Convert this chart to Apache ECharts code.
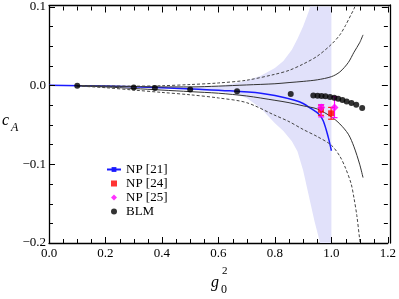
<!DOCTYPE html>
<html><head><meta charset="utf-8">
<script src="https://cdn.jsdelivr.net/npm/echarts@6/dist/echarts.min.js"></script>
<style>html,body{margin:0;padding:0;background:#fff}#c{width:399px;height:299px}</style>
</head><body><div id="c"></div>
<script>
// ---- data ----
const bandX     = [0, 0.2, 0.4, 0.5, 0.6, 0.65, 0.7, 0.75, 0.8, 0.83, 0.86, 0.88, 0.9, 0.92, 0.94, 0.96, 0.98, 1.0];
const bandUpper = [0, -0.0008, -0.002, -0.0025, -0.001, 0.002, 0.006, 0.012, 0.022, 0.031, 0.045, 0.059, 0.075, 0.094, 0.120, 0.160, 0.250, 0.350];
const bandLower = [0, -0.0015, -0.004, -0.006, -0.008, -0.010, -0.016, -0.029, -0.048, -0.058, -0.071, -0.084, -0.108, -0.140, -0.172, -0.200, -0.300, -0.400];

const curveX     = [0.1, 0.2, 0.3, 0.4, 0.5, 0.6, 0.7, 0.8, 0.85, 0.9, 0.95, 1.0, 1.03, 1.06, 1.08, 1.1, 1.112];
const solidUpper = [-0.0005, -0.001, -0.0015, -0.002, -0.002, -0.001, 0.0005, 0.002, 0.0035, 0.005, 0.007, 0.011, 0.017, 0.029, 0.042, 0.054, 0.064];
const solidLower = [-0.0006, -0.002, -0.004, -0.006, -0.008, -0.010, -0.0135, -0.019, -0.022, -0.026, -0.030, -0.040, -0.049, -0.062, -0.078, -0.100, -0.117];

const dashX      = [0.1, 0.2, 0.3, 0.4, 0.5, 0.6, 0.7, 0.8, 0.85, 0.9, 0.95, 1.0, 1.03, 1.05, 1.07, 1.08, 1.09, 1.1, 1.105];
const dashUpper  = [-0.0003, -0.0008, -0.001, -0.0005, 0.001, 0.003, 0.0065, 0.014, 0.019, 0.027, 0.037, 0.052, 0.064, 0.076, 0.090, 0.097, 0.107, 0.118, 0.125];
const dashLower  = [-0.0008, -0.003, -0.006, -0.009, -0.012, -0.016, -0.022, -0.038, -0.046, -0.056, -0.065, -0.076, -0.090, -0.105, -0.125, -0.143, -0.165, -0.195, -0.21];

const np21X = [0, 0.2, 0.4, 0.53, 0.64, 0.75, 0.8, 0.87, 0.9, 0.93, 0.954, 0.971, 0.989, 1.0];
const np21Y = [0, -0.001, -0.003, -0.005, -0.007, -0.010, -0.013, -0.019, -0.023, -0.030, -0.036, -0.045, -0.066, -0.083];

const np24X  = [0.963, 0.999];
const np24Y  = [-0.031, -0.0355];
const np24Lo = [-0.038, -0.043];
const np24Hi = [-0.025, -0.028];

const np25X  = [0.964, 1.011];
const np25Y  = [-0.028, -0.028];
const np25Lo = [-0.040, -0.041];
const np25Hi = [-0.0245, -0.0144];

const blmX = [0.1, 0.3, 0.375, 0.5, 0.666, 0.856, 0.936, 0.951, 0.965, 0.979, 0.995, 1.010, 1.024, 1.039, 1.054, 1.071, 1.088, 1.109];
const blmY = [-0.0005, -0.0026, -0.0034, -0.0052, -0.0075, -0.011, -0.0128, -0.0131, -0.0135, -0.014, -0.0148, -0.0157, -0.0169, -0.0186, -0.0204, -0.0224, -0.0245, -0.0287];

const xTicks = ['0.0', '0.2', '0.4', '0.6', '0.8', '1.0', '1.2'];
const yTicks = ['\u22120.2', '\u22120.1', '0.0', '0.1'];

// tick positions (axis decoration): majors every 0.2 / 0.1, minors every 0.05 / 0.025
const xMajorTicks = [0, 0.2, 0.4, 0.6, 0.8, 1.0, 1.2];
const yMajorTicks = [-0.2, -0.1, 0, 0.1];
const xMinorTicks = [];
for (let k = 0; k <= 24; k++) if (k % 4) xMinorTicks.push(k * 0.05);
const yMinorTicks = [];
for (let k = 0; k <= 12; k++) if (k % 4) yMinorTicks.push(-0.2 + k * 0.025);

// ---- build ----
const zip = (xs, ys) => xs.map((x, i) => [x, ys[i]]);
const FONT = 'Liberation Serif';
const chart = echarts.init(document.getElementById('c'), null, {renderer: 'canvas'});

function errRender(color) {
  return function (params, api) {
    const x = api.value(0), lo = api.value(1), hi = api.value(2);
    const p1 = api.coord([x, lo]), p2 = api.coord([x, hi]);
    const s = {stroke: color, lineWidth: 1.2};
    return {type: 'group', children: [
      {type: 'line', shape: {x1: p1[0], y1: p1[1], x2: p2[0], y2: p2[1]}, style: s},
      {type: 'line', shape: {x1: p1[0] - 3, y1: p1[1], x2: p1[0] + 3, y2: p1[1]}, style: s},
      {type: 'line', shape: {x1: p2[0] - 3, y1: p2[1], x2: p2[0] + 3, y2: p2[1]}, style: s}
    ]};
  };
}

function bandRender(params, api) {
  const pts = [];
  for (let i = 0; i < bandX.length; i++) pts.push(api.coord([bandX[i], bandUpper[i]]));
  for (let i = bandX.length - 1; i >= 0; i--) pts.push(api.coord([bandX[i], bandLower[i]]));
  const cs = params.coordSys;
  return {
    type: 'group',
    clipPath: {type: 'rect', shape: {x: cs.x, y: cs.y, width: cs.width, height: cs.height}},
    children: [{type: 'polygon', shape: {points: pts}, style: {fill: '#e1e1fa'}}]
  };
}

function tickRender(params, api) {
  const cs = params.coordSys;
  const top = cs.y, bottom = cs.y + cs.height, left = cs.x, right = cs.x + cs.width;
  const s = {stroke: '#000', lineWidth: 1};
  const ch = [];
  const addX = (v, len) => {
    const px = Math.round(api.coord([v, 0])[0]) + 0.5;
    ch.push({type: 'line', shape: {x1: px, y1: bottom, x2: px, y2: bottom - len}, style: s});
    ch.push({type: 'line', shape: {x1: px, y1: top, x2: px, y2: top + len}, style: s});
  };
  const addY = (v, len) => {
    const py = Math.round(api.coord([0, v])[1]) + 0.5;
    ch.push({type: 'line', shape: {x1: left, y1: py, x2: left + len, y2: py}, style: s});
    ch.push({type: 'line', shape: {x1: right, y1: py, x2: right - len, y2: py}, style: s});
  };
  xMajorTicks.forEach(v => addX(v, 6));
  xMinorTicks.forEach(v => addX(v, 4));
  yMajorTicks.forEach(v => addY(v, 6));
  yMinorTicks.forEach(v => addY(v, 4));
  return {type: 'group', children: ch};
}

function axisCommon(extra) {
  return Object.assign({
    axisLine: {show: true, onZero: false, lineStyle: {color: '#000', width: 1.3}},
    axisTick: {show: false},
    minorTick: {show: false},
    splitLine: {show: false},
    minorSplitLine: {show: false}
  }, extra);
}

const gridRect = {left: 49, right: 9, top: 5, bottom: 56};

chart.setOption({
  animation: false,
  backgroundColor: '#fff',
  textStyle: {fontFamily: FONT},
  grid: [Object.assign({}, gridRect), Object.assign({}, gridRect)],
  xAxis: [
    axisCommon({gridIndex: 0, type: 'value', min: 0, max: 1.2, splitNumber: 6, position: 'bottom',
      axisLabel: {show: true, margin: 4, fontFamily: FONT, fontSize: 13, color: '#000',
        formatter: v => xTicks[Math.round(v / 0.2)]}}),
    axisCommon({gridIndex: 1, type: 'value', min: 0, max: 1.2, splitNumber: 6, position: 'top',
      axisLabel: {show: false}})
  ],
  yAxis: [
    axisCommon({gridIndex: 0, type: 'value', min: -0.2, max: 0.1, splitNumber: 3, position: 'left',
      axisLabel: {show: true, margin: 3, fontFamily: FONT, fontSize: 13, color: '#000',
        formatter: v => yTicks[Math.round((v + 0.2) / 0.1)]}}),
    axisCommon({gridIndex: 1, type: 'value', min: -0.2, max: 0.1, splitNumber: 3, position: 'right',
      axisLabel: {show: false}})
  ],
  legend: {
    orient: 'vertical', left: 101, top: 158, itemGap: 1, itemWidth: 14, itemHeight: 6,
    symbolKeepAspect: true,
    textStyle: {fontFamily: FONT, fontSize: 13, color: '#000'},
    data: [
      {name: 'NP [21]'},
      {name: 'NP [24]', icon: 'path://M0,0H10V10H0Z'},
      {name: 'NP [25]', icon: 'path://M5,0L10,5L5,10L0,5Z'},
      {name: 'BLM', icon: 'circle'}
    ]
  },
  graphic: [
    {type: 'text', left: 2, top: 113, style: {text: 'c', font: 'italic 16px "Liberation Serif"', fill: '#000'}},
    {type: 'text', left: 11, top: 122, style: {text: 'A', font: 'italic 12px "Liberation Serif"', fill: '#000'}},
    {type: 'text', left: 211, top: 275, style: {text: 'g', font: 'italic 16px "Liberation Serif"', fill: '#000'}},
    {type: 'text', left: 222, top: 266, style: {text: '2', font: '11px "Liberation Serif"', fill: '#000'}},
    {type: 'text', left: 221, top: 284, style: {text: '0', font: '12px "Liberation Serif"', fill: '#000'}}
  ],
  series: [
    {type: 'custom', name: 'band', data: [[bandX[0], bandUpper[0]]], renderItem: bandRender,
      encode: {x: 0, y: 1}, silent: true, z: 1},
    {type: 'line', name: 'NP [21]', data: zip(np21X, np21Y), symbol: 'path://M0,0H28V2H0Z',
      showSymbol: false, smooth: 0.3,
      lineStyle: {color: '#1a1aff', width: 1.5}, itemStyle: {color: '#1a1aff'}, clip: true, z: 2},
    {type: 'line', name: 'su', data: zip(curveX, solidUpper), symbol: 'none', smooth: 0.3,
      lineStyle: {color: '#333', width: 1}, clip: true, z: 3},
    {type: 'line', name: 'sl', data: zip(curveX, solidLower), symbol: 'none', smooth: 0.3,
      lineStyle: {color: '#333', width: 1}, clip: true, z: 3},
    {type: 'line', name: 'du', data: zip(dashX, dashUpper), symbol: 'none', smooth: 0.3,
      lineStyle: {color: '#444', width: 1, type: [3, 2]}, clip: true, z: 3},
    {type: 'line', name: 'dl', data: zip(dashX, dashLower), symbol: 'none', smooth: 0.3,
      lineStyle: {color: '#444', width: 1, type: [3, 2]}, clip: true, z: 3},
    {type: 'custom', name: 'e24', data: np24X.map((x, i) => [x, np24Lo[i], np24Hi[i]]),
      renderItem: errRender('#ff1a1a'), encode: {x: 0, y: [1, 2]}, z: 4},
    {type: 'custom', name: 'e25', data: np25X.map((x, i) => [x, np25Lo[i], np25Hi[i]]),
      renderItem: errRender('#ff00ff'), encode: {x: 0, y: [1, 2]}, z: 4},
    {type: 'scatter', name: 'NP [24]', data: zip(np24X, np24Y), symbol: 'rect', symbolSize: 6,
      itemStyle: {color: '#ff0000'}, z: 5},
    {type: 'scatter', name: 'NP [25]', data: zip(np25X, np25Y), symbol: 'diamond', symbolSize: 8,
      itemStyle: {color: '#ff00ff'}, z: 5},
    {type: 'scatter', name: 'BLM', data: zip(blmX, blmY), symbol: 'circle', symbolSize: 6,
      itemStyle: {color: '#000'}, z: 6},
    {type: 'custom', name: 'ticks', data: [[0, 0]], renderItem: tickRender,
      encode: {x: 0, y: 1}, silent: true, z: 10}
  ]
});
</script></body></html>
